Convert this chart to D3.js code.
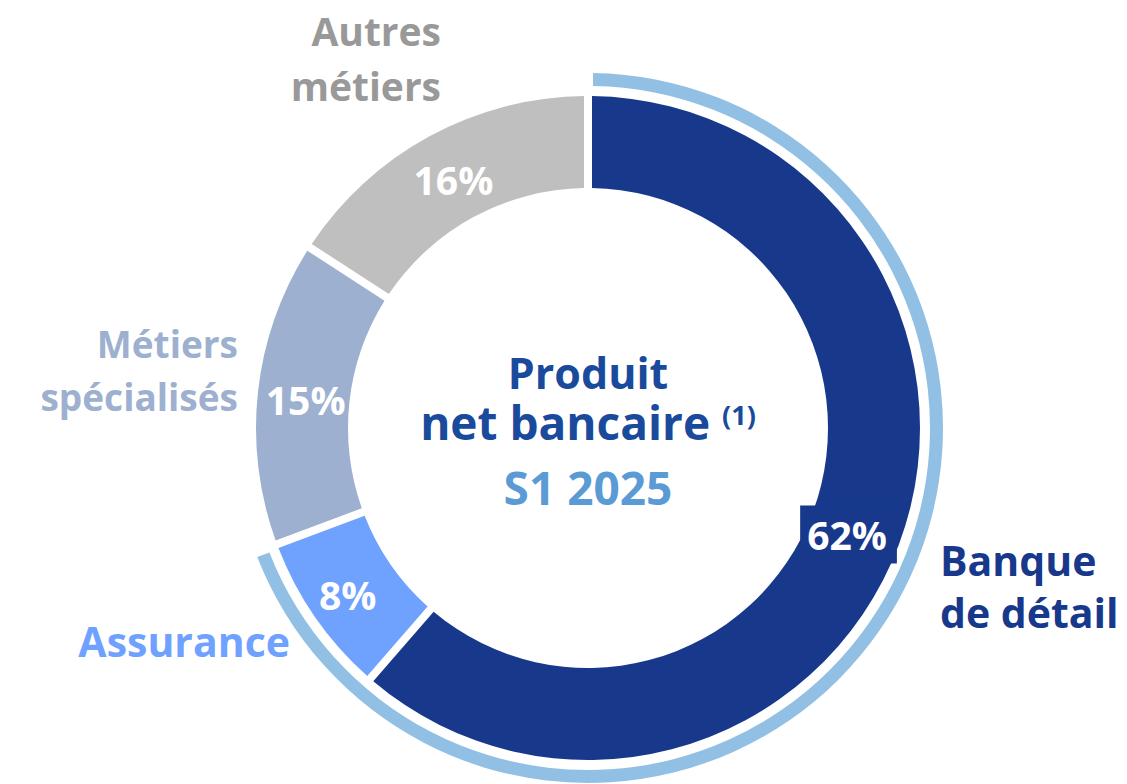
<!DOCTYPE html>
<html>
<head>
<meta charset="utf-8">
<script src="https://cdn.jsdelivr.net/npm/d3@7"></script>
<style>
  html, body { margin: 0; padding: 0; background: #ffffff; }
  svg { display: block; }
  text { font-family: "Open Sans", "DejaVu Sans", sans-serif; font-weight: 700; }
</style>
</head>
<body>
<svg id="chart" width="1127" height="784"></svg>
<script>
// ---- Data ----
const categories = ["Banque de détail", "Assurance", "Métiers spécialisés", "Autres métiers"];
const values = [62, 8, 15, 16];
const valueLabels = ["62%", "8%", "15%", "16%"];
const categoryLabelLines = [["Banque", "de détail"], ["Assurance"], ["Métiers", "spécialisés"], ["Autres", "métiers"]];
const ringCategories = ["Banque de détail", "Assurance"];
const centerTitle = ["Produit", "net bancaire"];
const centerNote = "(1)";
const centerPeriod = "S1 2025";

// ---- Styles / layout ----
const sliceColors = ["#18398B", "#6FA1FF", "#9DB0CF", "#BFBFBF"];
const labelColors = ["#18398B", "#6FA1FF", "#9DB0CF", "#999999"];
const ringColor = "#92C0E4";
const cx = 588, cy = 428;
const rIn = 240, rOut = 332;
const ringIn = 342, ringOut = 355;
const labelNudge = [[-7, 9], [-7, 6], [0, 4], [1, 3]];

const svg = d3.select("#chart");
const g = svg.append("g").attr("transform", `translate(${cx},${cy})`);

const data = categories.map((c, i) => ({ category: c, value: values[i], i }));
const pie = d3.pie().value(d => d.value).sort(null);
const arcs = pie(data);

const arc = d3.arc().innerRadius(rIn).outerRadius(rOut)
  .padRadius(rOut).padAngle(8 / rOut);

g.selectAll("path.slice").data(arcs).join("path")
  .attr("class", "slice")
  .attr("d", arc)
  .attr("fill", d => sliceColors[d.data.i]);

// outer ring spanning selected categories
const ringArcs = arcs.filter(a => ringCategories.includes(a.data.category));
const ringArc = d3.arc().innerRadius(ringIn).outerRadius(ringOut)
  .padRadius(ringOut).padAngle(10 / ringOut);
g.append("path")
  .attr("d", ringArc({
    startAngle: d3.min(ringArcs, a => a.startAngle),
    endAngle: d3.max(ringArcs, a => a.endAngle),
    padAngle: 10 / ringOut
  }))
  .attr("fill", ringColor);

// value labels
const labelArc = d3.arc().innerRadius(284).outerRadius(284);
const vl = g.selectAll("g.vlabel").data(arcs).join("g")
  .attr("class", "vlabel")
  .attr("transform", d => {
    const [x, y] = labelArc.centroid(d);
    const n = labelNudge[d.data.i];
    return `translate(${x + n[0]},${y + n[1]})`;
  });
vl.append("text")
  .attr("text-anchor", "middle")
  .attr("dy", "0.36em")
  .attr("font-size", 39)
  .attr("fill", "#ffffff")
  .text(d => valueLabels[d.data.i]);
// background box behind the first label (it overflows the ring)
vl.filter(d => d.data.i === 0).each(function () {
  const t = d3.select(this).select("text");
  const bb = t.node().getBBox();
  d3.select(this).insert("rect", "text")
    .attr("x", bb.x - 7).attr("y", bb.y - 3)
    .attr("width", bb.width + 17).attr("height", bb.height + 5)
    .attr("fill", sliceColors[0]);
});

// category labels
const catLayout = [
  { x: 940, y: 576, anchor: "start", size: 41, lh: 52 },
  { x: 290, y: 657, anchor: "end", size: 41, lh: 52 },
  { x: 238, y: 358, anchor: "end", size: 37, lh: 53 },
  { x: 441, y: 46, anchor: "end", size: 39, lh: 55 }
];
categoryLabelLines.forEach((lines, i) => {
  const L = catLayout[i];
  const t = svg.append("text")
    .attr("x", L.x).attr("y", L.y)
    .attr("text-anchor", L.anchor)
    .attr("font-size", L.size)
    .attr("fill", labelColors[i]);
  lines.forEach((ln, k) => {
    t.append("tspan").attr("x", L.x).attr("dy", k === 0 ? 0 : L.lh).text(ln);
  });
});

// center text (one text block, three lines)
const ct = svg.append("text").attr("text-anchor", "middle")
  .attr("x", cx).attr("y", 389).attr("fill", "#1A4A9C");
ct.append("tspan").attr("x", cx).attr("font-size", 43).text(centerTitle[0]);
ct.append("tspan").attr("x", cx).attr("dy", 51).attr("font-size", 46).text(centerTitle[1] + " ");
ct.append("tspan").attr("font-size", 27).attr("dy", -15).text(centerNote);
ct.append("tspan").attr("x", cx).attr("dy", 80).attr("font-size", 46)
  .attr("fill", "#5B9BD5").text(centerPeriod);
</script>
</body>
</html>
